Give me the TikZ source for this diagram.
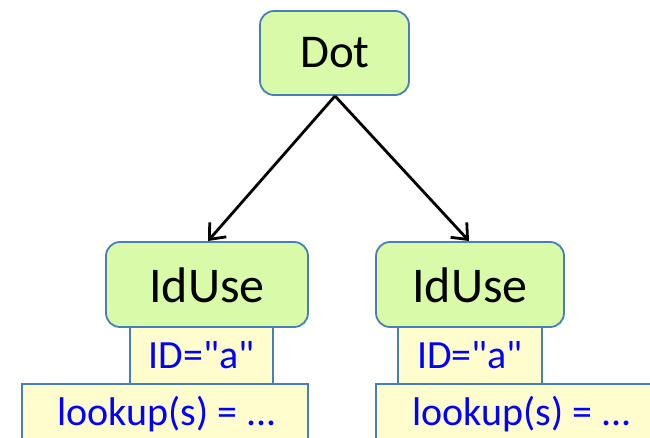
\documentclass[tikz,border=0pt]{standalone}
\usepackage{fontspec}
\setmainfont{Carlito}[Ligatures=TeXOff]
\usetikzlibrary{arrows.meta}
\definecolor{nodegreen}{HTML}{D9FBA9}
\definecolor{nodeyellow}{HTML}{FFFCCD}
\definecolor{edgeblue}{HTML}{4A7EBB}
\definecolor{textblue}{HTML}{0000FF}
\tikzset{
  gbox/.style={draw=edgeblue, line width=1.8pt, fill=nodegreen, rounded corners=14pt, inner sep=0pt},
  ybox/.style={draw=edgeblue, line width=1.6pt, fill=nodeyellow, inner sep=0pt},
  dottxt/.style={font=\fontsize{47}{50}\selectfont, text=black},
  bigtxt/.style={font=\fontsize{50}{54}\selectfont, text=black},
  idtxt/.style={font=\fontsize{40}{44}\selectfont, text=textblue},
  lktxt/.style={font=\fontsize{40}{44}\selectfont, text=textblue},
  arr/.style={-{Straight Barb[length=13pt,width=22pt,line width=2.8pt]}, line width=2.8pt, black}
}
\begin{document}
\begin{tikzpicture}[x=1pt,y=-1pt]
\useasboundingbox (0,0) rectangle (650,437);
\clip (0,0) rectangle (650,437);
% Dot
\draw[gbox] (260,11) rectangle (409,95);
\node[dottxt] (dot) at (335,53) {Dot};
\coordinate (dotb) at (335,96);
% left
\draw[ybox] (22,384) rectangle (308,460);
\node[lktxt, anchor=west] (lk1) at (54,414) {lookup(s) = ...};
\draw[ybox] (130,327) rectangle (273,384);
\node[idtxt] (id1) at (201.5,355) {ID="a"};
\draw[gbox] (106,242) rectangle (308,327);
\node[bigtxt] (iu1) at (207,285) {IdUse};
\coordinate (iu1t) at (208,241);
% right
\draw[ybox] (376,384) rectangle (662,460);
\node[lktxt, anchor=west] (lk2) at (409,414) {lookup(s) = ...};
\draw[ybox] (398,327) rectangle (542,384);
\node[idtxt] (id2) at (470,355) {ID="a"};
\draw[gbox] (376,242) rectangle (564,327);
\node[bigtxt] (iu2) at (470,285) {IdUse};
\coordinate (iu2t) at (469,241);
% arrows
\draw[arr] (dotb) -- (iu1t);
\draw[arr] (dotb) -- (iu2t);
\end{tikzpicture}
\end{document}
